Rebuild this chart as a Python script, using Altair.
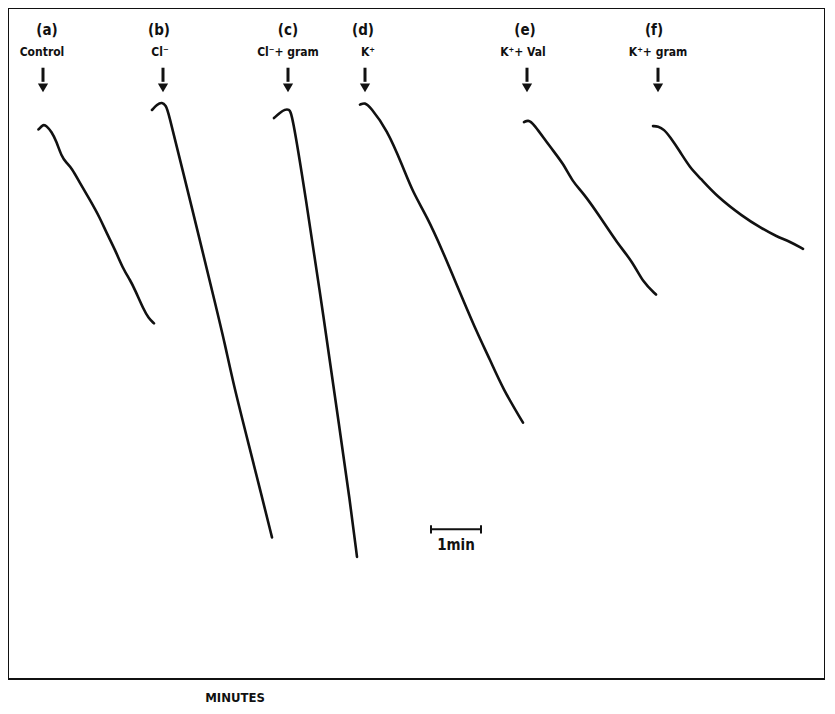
import altair as alt
import pandas as pd

# time in minutes, signal in arbitrary units (0-100, bottom to top)
curve_a_t = [0.61, 0.71, 0.77, 0.87, 0.97, 1.07, 1.17, 1.27, 1.44, 1.64, 1.84, 1.97, 2.14, 2.31, 2.44, 2.54, 2.71, 2.81, 2.92]
curve_a_v = [81.9, 82.7, 82.4, 81.6, 80.1, 77.9, 76.9, 76.2, 73.9, 71.4, 68.7, 66.5, 64.0, 61.0, 59.5, 58.0, 55.1, 53.8, 53.0]

curve_b_t = [2.88, 2.98, 3.08, 3.16, 3.20, 3.50, 3.84, 4.14, 4.34, 4.50, 4.84, 5.06, 5.28]
curve_b_v = [84.8, 85.6, 86.0, 85.4, 84.7, 75.6, 65.3, 56.1, 49.9, 44.2, 34.2, 27.7, 21.1]

curve_c_t = [5.32, 5.44, 5.54, 5.62, 5.68, 5.94, 6.32, 6.64, 6.84, 6.98]
curve_c_v = [83.6, 84.4, 84.9, 84.9, 84.4, 72.5, 53.6, 36.8, 26.5, 18.2]

curve_d_t = [7.04, 7.14, 7.24, 7.58, 7.90, 8.10, 8.38, 8.68, 9.00, 9.38, 9.64, 9.90, 10.30]
curve_d_v = [85.6, 85.9, 85.3, 81.9, 76.3, 72.5, 68.9, 64.0, 58.3, 51.6, 47.6, 43.2, 38.2]

curve_e_t = [10.32, 10.40, 10.50, 10.84, 11.10, 11.30, 11.50, 11.84, 12.18, 12.50, 12.70, 12.96]
curve_e_v = [83.0, 83.3, 82.9, 79.3, 76.9, 74.0, 72.5, 68.9, 65.0, 62.1, 59.1, 57.3]

curve_f_t = [12.90, 13.00, 13.12, 13.24, 13.44, 13.64, 13.84, 14.18, 14.70, 15.04, 15.38, 15.64, 15.90]
curve_f_v = [82.4, 82.4, 81.9, 80.8, 78.6, 76.2, 74.7, 71.9, 68.9, 67.3, 65.9, 65.2, 64.1]

letters = ["(a)", "(b)", "(c)", "(d)", "(e)", "(f)"]
letter_t = [0.78, 3.02, 5.60, 7.10, 10.34, 12.92]
names = ["Control", "Cl\u207b", "Cl\u207b+ gram", "K\u207a", "K\u207a+ Val", "K\u207a+ gram"]
name_t = [0.68, 3.04, 5.60, 7.20, 10.30, 13.00]
arrow_t = [0.70, 3.10, 5.60, 7.14, 10.38, 13.00]

letter_v = 96.7
name_v = 93.4
arrow_top_v = 91.1
arrow_shaft_end_v = 89.0
arrow_head_v = 88.1

scale_bar_t = [8.46, 9.46]
scale_bar_v = 22.3
scale_tick_v = [22.9, 21.7]
scale_label = "1min"
scale_label_t = 8.96
scale_label_v = 19.9

axis_title = "MINUTES"
axis_title_t = 4.54
axis_title_v = -2.9

FONT = "DejaVu Sans Condensed, Liberation Sans, sans-serif"

X = alt.Scale(domain=[0, 16.34], nice=False, zero=False)
Y = alt.Scale(domain=[0, 100], nice=False, zero=False)

rows = []
for name, ts, vs in [("a", curve_a_t, curve_a_v), ("b", curve_b_t, curve_b_v),
                     ("c", curve_c_t, curve_c_v), ("d", curve_d_t, curve_d_v),
                     ("e", curve_e_t, curve_e_v), ("f", curve_f_t, curve_f_v)]:
    for i, (t, v) in enumerate(zip(ts, vs)):
        rows.append({"curve": name, "t": t, "v": v, "i": i})
curves_df = pd.DataFrame(rows)

lines = alt.Chart(curves_df).mark_line(
    color="#111111", strokeWidth=2.6, strokeCap="round", strokeJoin="round", interpolate="basis"
).encode(
    x=alt.X("t:Q", scale=X, axis=None),
    y=alt.Y("v:Q", scale=Y, axis=None),
    detail="curve:N",
    order="i:Q",
)

lab_df = pd.DataFrame({"letter": letters, "lt": letter_t, "name": names, "nt": name_t, "at": arrow_t})
lab_df["lv"] = letter_v
lab_df["nv"] = name_v
lab_df["av1"] = arrow_top_v
lab_df["av2"] = arrow_shaft_end_v
lab_df["ah"] = arrow_head_v

letter_text = alt.Chart(lab_df).mark_text(
    font=FONT, fontWeight="bold", fontSize=15, color="#111111", baseline="middle"
).encode(x=alt.X("lt:Q", scale=X), y=alt.Y("lv:Q", scale=Y), text="letter:N")

name_text = alt.Chart(lab_df).mark_text(
    font=FONT, fontWeight="bold", fontSize=12, color="#111111", baseline="middle"
).encode(x=alt.X("nt:Q", scale=X), y=alt.Y("nv:Q", scale=Y), text="name:N")

arrow_shaft = alt.Chart(lab_df).mark_rule(color="#111111", strokeWidth=3).encode(
    x=alt.X("at:Q", scale=X), y=alt.Y("av1:Q", scale=Y), y2="av2:Q"
)
arrow_head = alt.Chart(lab_df).mark_point(
    shape="triangle-down", filled=True, color="#111111", size=105, opacity=1
).encode(x=alt.X("at:Q", scale=X), y=alt.Y("ah:Q", scale=Y))

bar_df = pd.DataFrame({"t1": [scale_bar_t[0]], "t2": [scale_bar_t[1]], "v": [scale_bar_v],
                       "lt": [scale_label_t], "lv": [scale_label_v], "label": [scale_label]})
bar = alt.Chart(bar_df).mark_rule(color="#111111", strokeWidth=2).encode(
    x=alt.X("t1:Q", scale=X), x2="t2:Q", y=alt.Y("v:Q", scale=Y)
)
ticks_df = pd.DataFrame({"t": scale_bar_t, "v1": [scale_tick_v[0]] * 2, "v2": [scale_tick_v[1]] * 2})
bar_ticks = alt.Chart(ticks_df).mark_rule(color="#111111", strokeWidth=2).encode(
    x=alt.X("t:Q", scale=X), y=alt.Y("v1:Q", scale=Y), y2="v2:Q"
)
bar_label = alt.Chart(bar_df).mark_text(
    font=FONT, fontWeight="bold", fontSize=15, color="#111111", baseline="middle"
).encode(x=alt.X("lt:Q", scale=X), y=alt.Y("lv:Q", scale=Y), text="label:N")

title_df = pd.DataFrame({"t": [axis_title_t], "v": [axis_title_v], "label": [axis_title]})
title_text = alt.Chart(title_df).mark_text(
    font=FONT, fontWeight="bold", fontSize=13, color="#111111", baseline="middle"
).encode(x=alt.X("t:Q", scale=X), y=alt.Y("v:Q", scale=Y), text="label:N")

chart = alt.layer(
    lines, arrow_shaft, arrow_head, letter_text, name_text, bar, bar_ticks, bar_label, title_text
).properties(
    width=817, height=671, padding=0
).configure_view(
    stroke="#111111", strokeWidth=2
)

chart.save("out.html", embed_options={"renderer": "svg", "actions": False})
